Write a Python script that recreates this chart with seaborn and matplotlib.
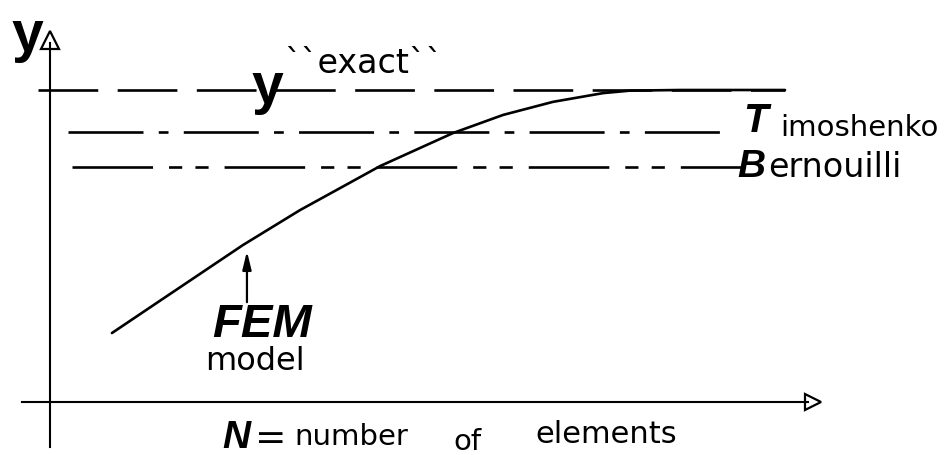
import matplotlib
matplotlib.use('Agg')
import matplotlib.pyplot as plt
from matplotlib import font_manager as fm
import seaborn as sns

# FEM convergence curve (N in arbitrary units, y normalised so y_exact = 1)
fem_n = [0.805, 1.468, 2.506, 3.247, 3.896, 4.286, 5.234, 5.883, 6.532, 7.182, 7.532, 8.182, 9.545]
fem_y = [0.221, 0.331, 0.503, 0.615, 0.703, 0.756, 0.862, 0.920, 0.962, 0.990, 0.998, 1.0, 1.0]

# reference levels
ref_names = ['exact', 'Timoshenko', 'Bernoulli']
ref_levels = [1.0, 0.865, 0.753]
ref_start = [-0.16, 0.23, 0.29]
ref_end = [9.55, 8.77, 9.03]
ref_dashes = [(0, (43, 14)),
              (0, (54, 11, 7, 11)),
              (0, (58, 11.5, 9.5, 9.5, 9.5, 11.5))]

sns.set_theme(style='white')
plt.rcParams['lines.scale_dashes'] = False
installed = {f.name for f in fm.fontManager.ttflist}
narrow = 'Liberation Sans Narrow' if 'Liberation Sans Narrow' in installed else 'Liberation Sans'
plt.rcParams['font.family'] = ['DejaVu Sans']

fig = plt.figure(figsize=(9.47, 4.55), dpi=100)
ax = fig.add_axes([0, 0, 1, 1])
ax.set_xlim(-0.649, 11.649)
ax.set_ylim(-0.170, 1.2885)

# axes drawn as crossing spines with open arrow heads
for side in ['top', 'right']:
    ax.spines[side].set_visible(False)
ax.spines['left'].set_position(('data', 0))
ax.spines['bottom'].set_position(('data', 0))
ax.spines['left'].set_bounds(-0.144, 1.15)
ax.spines['bottom'].set_bounds(-0.364, 9.85)
for side in ['left', 'bottom']:
    ax.spines[side].set_color('black')
    ax.spines[side].set_linewidth(1.5)
ax.set_xticks([])
ax.set_yticks([])
ax.plot(0, 1.16, marker='^', ms=13, mfc='white', mec='black', mew=1.6, clip_on=False)
ax.plot(9.91, 0, marker='>', ms=12, mfc='white', mec='black', mew=1.6, clip_on=False)

for lvl, x0, x1, ls in zip(ref_levels, ref_start, ref_end, ref_dashes):
    ax.hlines(lvl, x0, x1, colors='black', linestyles=[ls], linewidth=1.9)

sns.lineplot(x=fem_n, y=fem_y, sort=False, color='black', linewidth=1.9, ax=ax)

bold_it = dict(family='Liberation Sans', weight='bold', style='italic', color='black')
reg = dict(family='DejaVu Sans', color='black')
big_y = dict(family=narrow, weight='bold', fontsize=41, color='black')

ax.text(-0.494, 1.125, 'y', ha='left', va='baseline', **big_y)
ax.text(2.623, 0.958, 'y', ha='left', va='baseline', **big_y)
ax.text(3.04, 1.054, '``exact``', ha='left', va='baseline', fontsize=24, **reg)

ax.text(9.0, 0.865, 'T', ha='left', va='baseline', fontsize=29, **bold_it)
ax.text(9.48, 0.853, 'imoshenko', ha='left', va='baseline', fontsize=21, **reg)
ax.text(8.92, 0.721, 'B', ha='left', va='baseline', fontsize=28, **bold_it)
ax.text(9.33, 0.721, 'ernouilli', ha='left', va='baseline', fontsize=24, **reg)

ax.annotate('', xy=(2.558, 0.492), xytext=(2.558, 0.311),
            arrowprops=dict(arrowstyle='-|>,head_length=0.9,head_width=0.22',
                            color='black', lw=1.6))
ax.text(2.104, 0.208, 'FEM', ha='left', va='baseline', fontsize=34, **bold_it)
ax.text(2.66, 0.1026, 'model', ha='center', va='baseline', fontsize=23, **reg)

ax.text(2.234, -0.147, 'N', ha='left', va='baseline', fontsize=28, **bold_it)
ax.text(2.662, -0.150, '=', ha='left', va='baseline', fontsize=27, **reg)
ax.text(3.18, -0.138, 'number', ha='left', va='baseline', fontsize=21, **reg)
ax.text(5.234, -0.154, 'of', ha='left', va='baseline', fontsize=21, **reg)
ax.text(6.30, -0.131, 'elements', ha='left', va='baseline', fontsize=22, **reg)

fig.savefig('out.png', dpi=100, facecolor='white')
